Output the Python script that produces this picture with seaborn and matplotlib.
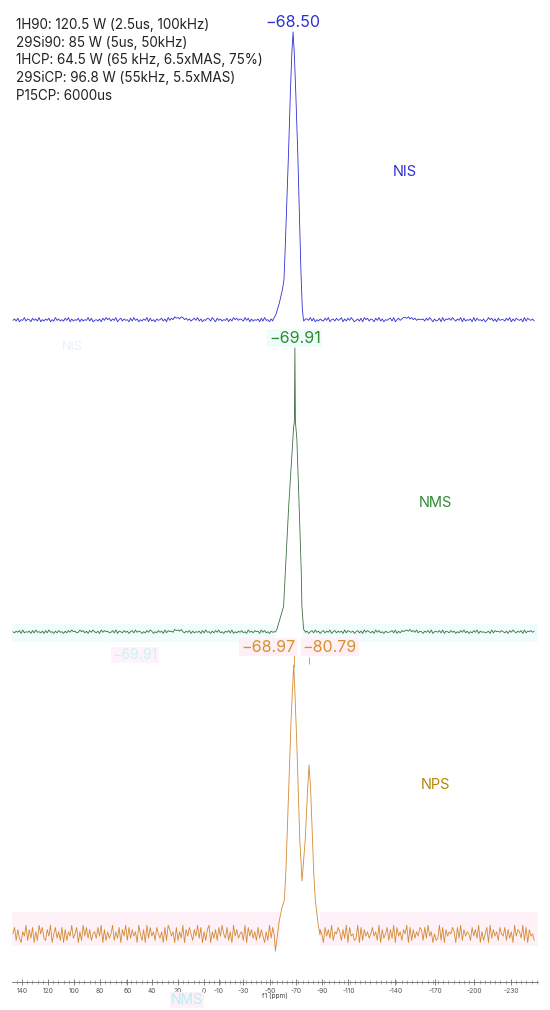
import numpy as np
import pandas as pd
import seaborn as sns
import matplotlib.pyplot as plt
from matplotlib.ticker import FixedLocator, MultipleLocator

# --- data ----------------------------------------------------------------
# peak regions: chemical shift (ppm) and normalised intensity
nis_ppm = [-53.0, -55.4, -58.0, -60.5, -61.5, -62.3, -64.0, -65.0, -66.5, -67.6,
           -68.5, -69.4, -70.5, -72.1, -73.5, -74.6, -75.6, -76.5]
nis_int = [0.00, 0.02, 0.06, 0.11, 0.14, 0.23, 0.45, 0.58, 0.80, 0.93,
           1.00, 0.93, 0.80, 0.58, 0.35, 0.16, 0.04, 0.00]

nms_ppm = [-55.0, -56.1, -61.2, -62.5, -65.1, -68.9, -69.5, -69.91, -70.3, -71.4,
           -73.2, -74.8, -75.3, -76.6, -78.0]
nms_int = [0.00, 0.01, 0.09, 0.21, 0.44, 0.72, 0.74, 1.00, 0.74, 0.68,
           0.44, 0.21, 0.09, 0.01, 0.00]

nps_ppm = [-54.9, -57.8, -59.9, -61.8, -63.0, -64.9, -67.0, -68.97, -69.9, -71.3,
           -73.7, -75.4, -77.8, -79.7, -80.79, -82.0, -84.4, -85.6, -87.8, -89.2]
nps_int = [-0.06, 0.05, 0.10, 0.13, 0.24, 0.50, 0.80, 1.00, 0.90, 0.72,
           0.35, 0.20, 0.35, 0.54, 0.63, 0.54, 0.23, 0.13, 0.04, 0.00]

# baseline noise, hand-read levels 0..9 across the spectrum width
nis_noise = "".join(["4637254836", "5274638253", "6472538463", "5374826354", "7263548372",
                     "4536274857", "3648257364", "5273846253", "6482735264", "5736284759",
                     "7869857463", "5748362547", "6385274635", "4726385746", "5384726354",
                     "6273845263", "4758362748", "5362748536", "6483725364", "3748256374",
                     "5826374852", "4637285736", "5274836254", "6738257468", "8796857465",
                     "5637485263", "4728365748", "5364827354", "6283745362", "4857362745",
                     "5374826375", "4628375463"])
nms_noise = "".join(["5364728354", "6273845362", "7384526374", "5263748563", "4857362748",
                     "5362847563", "4738265374", "6257384652", "5374862537", "4628375649",
                     "7869536472", "6354627384", "5263748352", "6473825364", "7352846375",
                     "6284735264", "5385264857", "4463527384", "6257384625", "7364825736",
                     "4628375462", "5736284753", "6284735264", "4573826375", "7869574836",
                     "5264738256", "4738265374", "6253748362", "5374826453", "4628375647",
                     "5362748536", "4728365746"])
nps_noise = "".join(["5827316492", "7381629583", "2749158362", "8172649358", "1629483725",
                     "6384917263", "5926381749", "2837461952", "7193846285", "3618297461",
                     "8263917485", "2749381627", "9163728495", "3826194735", "6291847362",
                     "8374162938", "4917283645", "2863917452", "7392618475", "1847392658",
                     "6273918452", "3918274635", "8462917358", "2739184627", "5918273648",
                     "7283946152", "3928174658", "6183927465", "2847391625", "8193746285",
                     "4827361947", "6392817452"])

tick_pos = [140, 120, 100, 80, 59, 40, 20, 0, -11.5, -30, -51, -71, -91, -111,
            -147, -178, -208, -236]
tick_labels = ["140", "120", "100", "80", "60", "40", "20", "0", "-10", "-30", "-50",
               "-70", "-90", "-110", "-140", "-170", "-200", "-230"]

params = ["1H90: 120.5 W (2.5us, 100kHz)",
          "29Si90: 85 W (5us, 50kHz)",
          "1HCP: 64.5 W (65 kHz, 6.5xMAS, 75%)",
          "29SiCP: 96.8 W (55kHz, 5.5xMAS)",
          "P15CP: 6000us"]


def build(noise, amp, p_ppm, p_int):
    grid = np.linspace(147.0, -254.0, len(noise))
    base = (np.array([int(c) for c in noise]) - 4.5) / 4.5 * amp
    keep = (grid > max(p_ppm)) | (grid < min(p_ppm))
    x = np.concatenate([grid[keep], p_ppm])
    y = np.concatenate([base[keep], p_int])
    return pd.DataFrame({"ppm": x, "intensity": y})


nis = build(nis_noise, 0.011, nis_ppm, nis_int)
nms = build(nms_noise, 0.009, nms_ppm, nms_int)
nps = build(nps_noise, 0.036, nps_ppm, nps_int)

sns.set_theme(style="white")
plt.rcParams["font.family"] = ["Inter", "DejaVu Sans"]

fig = plt.figure(figsize=(5.5, 10.1), dpi=100)
ax = fig.add_axes([12 / 550, 28 / 1010, 526 / 550, 982 / 1010])
ax.set_xlim(147.7, -256.9)
ax.set_ylim(0, 982)

# faint backgrounds behind the lower two traces
ax.axhspan(340, 358, xmin=0, xmax=0.50, color="#f1fcfc", lw=0, zorder=0)
ax.axhspan(340, 358, xmin=0.551, xmax=1, color="#f1fcfc", lw=0, zorder=0)
ax.axhspan(36, 70, xmin=0, xmax=0.51, color="#fef1f7", lw=0, zorder=0)
ax.axhspan(36, 70, xmin=0.586, xmax=1, color="#fef1f7", lw=0, zorder=0)

# stacked traces: (offset, scale)
sns.lineplot(x=nis.ppm, y=662 + 288 * nis.intensity, ax=ax, color="#2f2fd0", linewidth=0.6)
sns.lineplot(x=nms.ppm, y=350 + 284 * nms.intensity, ax=ax, color="#3f6f3f", linewidth=0.6)
sns.lineplot(x=nps.ppm, y=47 + 270 * nps.intensity, ax=ax, color="#d38a33", linewidth=0.6)

# peak labels
ax.text(-68.5, 960, "\u221268.50", ha="center", va="center", fontsize=11.5, color="#2f2fd0")
ax.text(-69.91, 644, "\u221269.91", ha="center", va="center", fontsize=11.5, color="#2e8b2e",
        bbox=dict(boxstyle="square,pad=0.1", fc="#eefcfc", ec="none"))
ax.annotate("\u221268.97", xy=(-68.97, 335), xytext=(1, 0), textcoords="offset points",
            ha="right", va="center", fontsize=11.5, color="#d4912f",
            bbox=dict(boxstyle="square,pad=0.1", fc="#fef0f6", ec="none"))
ax.annotate("\u221280.79", xy=(-80.79, 335), xytext=(-4.5, 0), textcoords="offset points",
            ha="left", va="center", fontsize=11.5, color="#d4912f",
            bbox=dict(boxstyle="square,pad=0.1", fc="#fef0f6", ec="none"))
ax.vlines(-68.97, 315, 327, color="#d4912f", lw=0.6)
ax.vlines(-80.79, 318, 325, color="#d4912f", lw=0.6)

# sample names
ax.text(-154.6, 810, "NIS", ha="center", va="center", fontsize=10.5, color="#2f2fd0")
ax.text(-177.7, 479, "NMS", ha="center", va="center", fontsize=10.5, color="#2e8b2e")
ax.text(-177.7, 197, "NPS", ha="center", va="center", fontsize=10.5, color="#b8860b")

# faint leftovers visible in the picture
ax.text(53, 327, "\u221269.91", ha="center", va="center", fontsize=10, color="#c8f3f7",
        bbox=dict(boxstyle="square,pad=0.1", fc="#fdf3f8", ec="none"))
ax.text(101, 635, "NIS", ha="center", va="center", fontsize=9, color="#e6f1fc")
fig.text(187 / 550, 1 - 1000 / 1010, "NMS", ha="center", va="center", fontsize=10,
         color="#b4f0f6", bbox=dict(boxstyle="square,pad=0.1", fc="#fdf0f7", ec="none"))

# acquisition parameters
for i, line in enumerate(params):
    fig.text(16 / 550, 1 - (25 + 17.7 * i) / 1010, line, ha="left", va="center",
             fontsize=9.7, color="#222222")

# axis styling
for side in ["top", "left", "right"]:
    ax.spines[side].set_visible(False)
ax.spines["bottom"].set_color("#666666")
ax.spines["bottom"].set_linewidth(0.6)
ax.set_yticks([])
ax.xaxis.set_major_locator(FixedLocator(tick_pos))
ax.set_xticklabels(tick_labels)
ax.xaxis.set_minor_locator(MultipleLocator(4))
ax.tick_params(axis="x", which="major", direction="inout", length=4, width=0.5,
               colors="#555555", labelsize=4.8, pad=2, bottom=True)
ax.tick_params(axis="x", which="minor", direction="inout", length=2.5, width=0.4,
               colors="#777777", bottom=True)
ax.set_xlabel("f1 (ppm)", fontsize=4.8, color="#444444", labelpad=-1)
ax.set_ylabel("")

fig.savefig("out.png", dpi=100)
